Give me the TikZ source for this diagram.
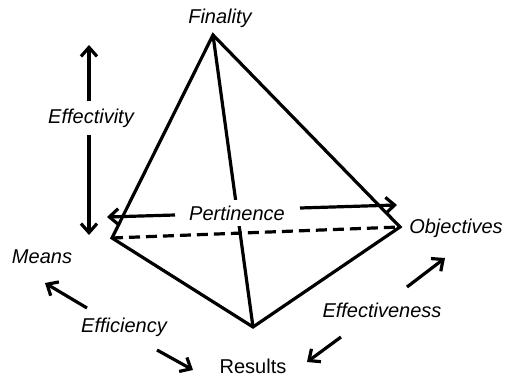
\documentclass[tikz,border=0pt]{standalone}
\usepackage{fontspec}
\setmainfont{Liberation Sans}
\usetikzlibrary{arrows.meta}
\begin{document}
\begin{tikzpicture}[x=1pt,y=-1pt,
  edge/.style={line width=3.2pt,line join=miter},
  hidden/.style={edge,dash pattern=on 11pt off 6pt},
  flow/.style={line width=3.2pt,-{Straight Barb[length=9pt,width=16pt]}},
  lbl/.style={font=\fontsize{20}{24}\selectfont\itshape,inner sep=2pt},
  cover/.style={lbl,fill=white,inner sep=6pt}]
\useasboundingbox (0,0) rectangle (509,377);

% vertices of the tetrahedron
\coordinate (apex) at (213,35);
\coordinate (left) at (112,238);
\coordinate (right) at (400,227);
\coordinate (bottom) at (253,327);

% edges
\draw[hidden] (left) -- (right);
\draw[edge] (apex) -- (bottom);
\draw[edge] (left) -- (apex) -- (right) -- (bottom) -- cycle;

% corner labels
\node[lbl] (finality) at (220,18) {Finality};
\node[lbl] (means) at (42,257) {Means};
\node[lbl] (objectives) at (456,228) {Objectives};
\node[lbl,font=\fontsize{20}{24}\selectfont] (results) at (253,366) {Results};

% Effectivity: vertical double arrow
\node[cover,inner sep=7pt] (effectivity) at (91,118) {Effectivity};
\coordinate (effT) at (89,45);
\coordinate (effB) at (89,235);
\draw[flow] (effT |- effectivity.north) -- (effT);
\draw[flow] (effB |- effectivity.south) -- (effB);

% Pertinence: horizontal arrows over the hidden edge
\node[cover] (pertinence) at (237,213) {Pertinence};
\coordinate (perL0) at (175,215);
\coordinate (perL1) at (107,217);
\coordinate (perR0) at (300,208);
\coordinate (perR1) at (397,205);
\draw[flow] (perL0) -- (perL1);
\draw[flow] (perR0) -- (perR1);

% Efficiency
\node[lbl] (efficiency) at (124,327) {Efficiency};
\coordinate (efcA0) at (87,308);
\coordinate (efcA1) at (45,283);
\coordinate (efcB0) at (157,350);
\coordinate (efcB1) at (193,370);
\draw[flow] (efcA0) -- (efcA1);
\draw[flow] (efcB0) -- (efcB1);

% Effectiveness
\node[lbl] (effectiveness) at (382,310) {Effectiveness};
\coordinate (efnA0) at (407,287);
\coordinate (efnA1) at (445,258);
\coordinate (efnB0) at (341,337);
\coordinate (efnB1) at (307,362);
\draw[flow] (efnA0) -- (efnA1);
\draw[flow] (efnB0) -- (efnB1);
\end{tikzpicture}
\end{document}
